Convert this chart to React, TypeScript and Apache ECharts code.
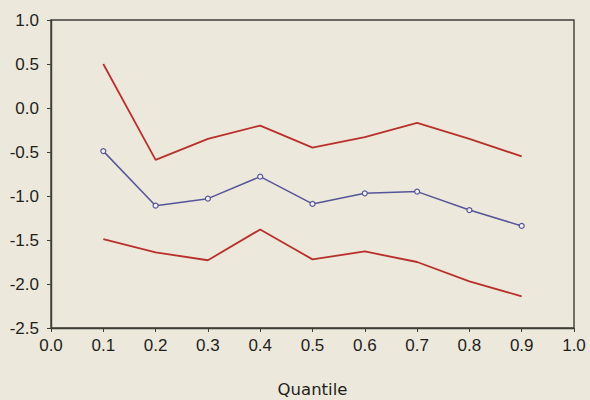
import React, { useEffect, useRef } from "react";
import * as echarts from "echarts";

const quantiles = [0.1, 0.2, 0.3, 0.4, 0.5, 0.6, 0.7, 0.8, 0.9];
const upperBand = [0.5, -0.59, -0.35, -0.2, -0.45, -0.33, -0.17, -0.35, -0.55];
const estimate = [-0.49, -1.11, -1.03, -0.78, -1.09, -0.97, -0.95, -1.16, -1.34];
const lowerBand = [-1.49, -1.64, -1.73, -1.38, -1.72, -1.63, -1.75, -1.97, -2.14];
const xTitle = "Quantile";

const pair = (vals: number[]) => quantiles.map((q, i) => [q, vals[i]]);

export default function App() {
  const ref = useRef<HTMLDivElement>(null);
  useEffect(() => {
    if (!ref.current) return;
    const chart = echarts.init(ref.current, undefined, { renderer: "svg" });
    const axisColor = "#3e3d36";
    const textColor = "#1f1e1a";
    const font = "'Liberation Sans', Arial, sans-serif";
    chart.setOption({
      animation: false,
      backgroundColor: "#ece9dc",
      grid: {
        left: 51,
        top: 20,
        right: 16,
        bottom: 72,
        show: true,
        containLabel: false,
        outerBoundsMode: "none",
        borderColor: axisColor,
        borderWidth: 1.4,
        backgroundColor: "transparent",
      },
      xAxis: {
        type: "value",
        min: 0,
        max: 1,
        interval: 0.1,
        name: xTitle,
        nameLocation: "middle",
        nameGap: 53,
        nameTextStyle: { color: textColor, fontSize: 16.5, fontFamily: "'DejaVu Sans', sans-serif" },
        splitLine: { show: false },
        axisLine: { onZero: false, lineStyle: { color: axisColor, width: 1.4 } },
        axisTick: { show: true, length: 4, lineStyle: { color: axisColor } },
        axisLabel: {
          color: textColor,
          fontSize: 17,
          fontFamily: font,
          margin: 9,
          formatter: (v: number) => v.toFixed(1),
        },
      },
      yAxis: {
        type: "value",
        min: -2.5,
        max: 1.0,
        interval: 0.5,
        splitLine: { show: false },
        axisLine: { show: true, onZero: false, lineStyle: { color: axisColor, width: 1.4 } },
        axisTick: { show: true, length: 4, lineStyle: { color: axisColor } },
        axisLabel: {
          color: textColor,
          fontSize: 17,
          fontFamily: font,
          margin: 12,
          formatter: (v: number) => v.toFixed(1),
        },
      },
      series: [
        {
          type: "line",
          data: pair(upperBand),
          showSymbol: false,
          lineStyle: { color: "#b8302c", width: 1.8 },
          itemStyle: { color: "#b8302c" },
        },
        {
          type: "line",
          data: pair(estimate),
          symbol: "circle",
          symbolSize: 5,
          lineStyle: { color: "#55559a", width: 1.5 },
          itemStyle: { color: "#f4f2ea", borderColor: "#55559a", borderWidth: 1.2 },
        },
        {
          type: "line",
          data: pair(lowerBand),
          showSymbol: false,
          lineStyle: { color: "#b8302c", width: 1.8 },
          itemStyle: { color: "#b8302c" },
        },
      ],
    });
    return () => chart.dispose();
  }, []);
  return (
    <div
      ref={ref}
      style={{ position: "fixed", left: 0, top: 0, width: 590, height: 400 }}
    />
  );
}
